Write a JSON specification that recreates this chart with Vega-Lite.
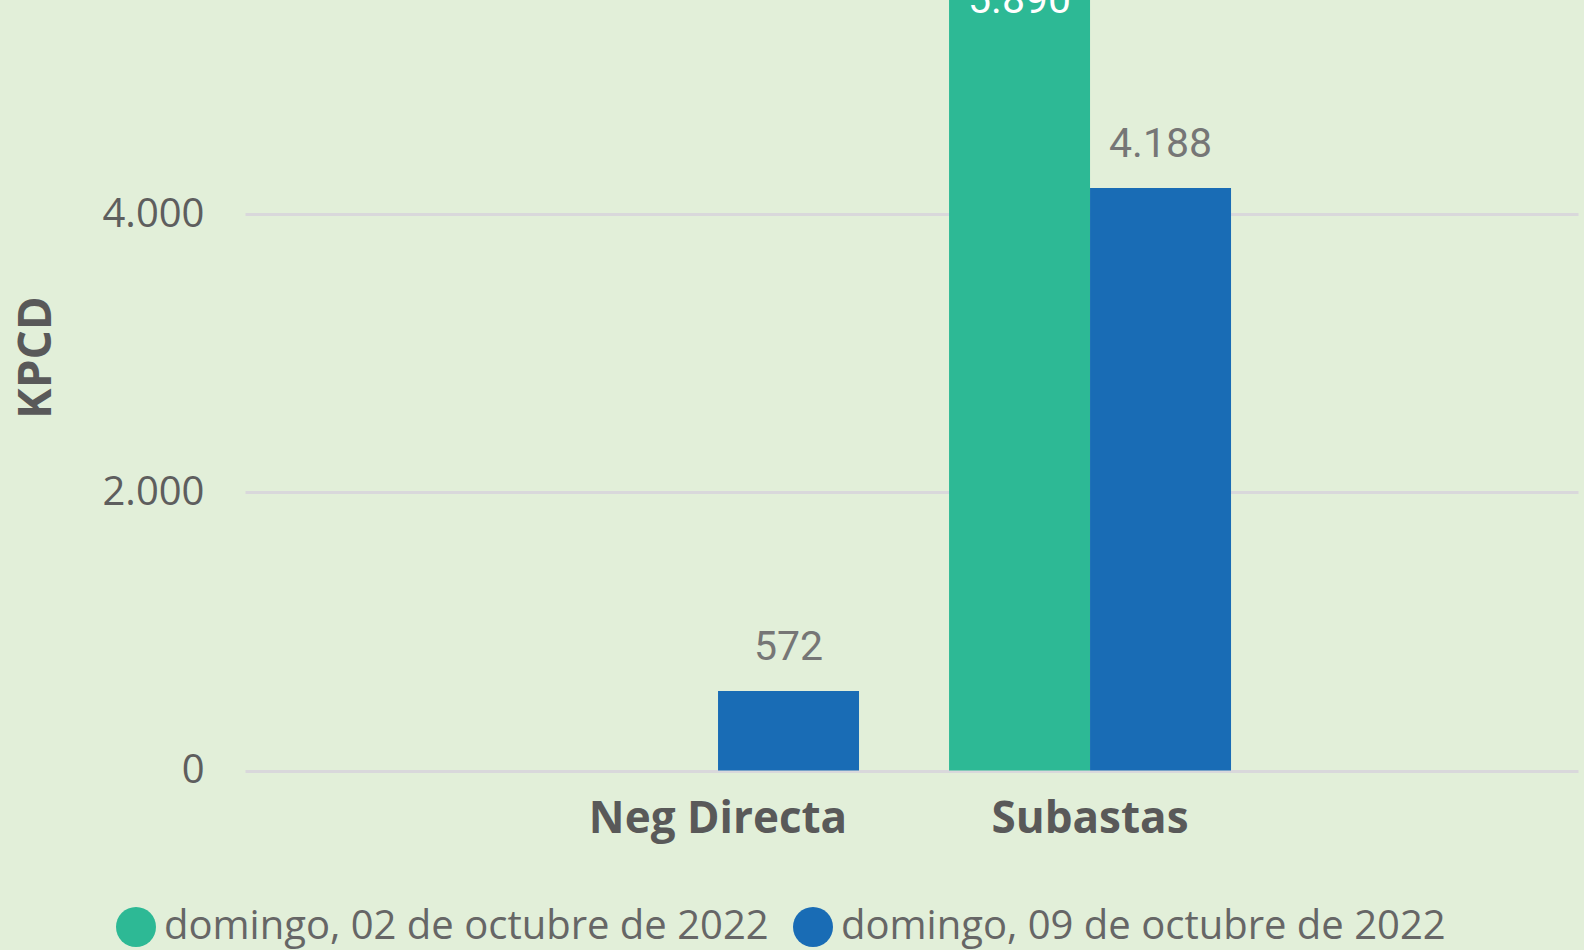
{
  "$schema": "https://vega.github.io/schema/vega-lite/v6.json",
  "width": 1333,
  "height": 770.5,
  "autosize": {"type": "none"},
  "padding": {"left": 245, "top": 0, "right": 6, "bottom": 179.5},
  "background": "#E2EFD9",
  "data": {
    "values": [
      {"categoria": "Neg Directa", "fecha": "domingo, 09 de octubre de 2022", "kpcd": 572},
      {"categoria": "Subastas", "fecha": "domingo, 02 de octubre de 2022", "kpcd": 5890},
      {"categoria": "Subastas", "fecha": "domingo, 09 de octubre de 2022", "kpcd": 4188}
    ]
  },
  "encoding": {
    "x": {
      "field": "categoria",
      "type": "nominal",
      "scale": {"domain": ["Neg Directa", "Subastas"], "paddingInner": 0.242, "paddingOuter": 0.9126, "align": 0.489},
      "axis": {
        "title": null,
        "labelAngle": 0,
        "ticks": false,
        "domain": false,
        "labelFont": "Open Sans",
        "labelFontWeight": "bold",
        "labelFontSize": 44,
        "labelColor": "#595959",
        "labelPadding": 27,
        "labelDx": 10,
        "labelLimit": 1000
      }
    },
    "xOffset": {
      "field": "fecha",
      "type": "nominal",
      "scale": {"domain": ["domingo, 02 de octubre de 2022", "domingo, 09 de octubre de 2022"], "paddingInner": 0, "paddingOuter": 0}
    },
    "y": {
      "field": "kpcd",
      "type": "quantitative",
      "scale": {"domain": [0, 5540], "nice": false, "clamp": true, "zero": true},
      "axis": {
        "values": [0, 2000, 4000],
        "format": ",d",
        "ticks": false,
        "domain": false,
        "grid": true,
        "gridColor": "#D9D8DB",
        "gridWidth": 3,
        "labelFont": "Open Sans",
        "labelFontSize": 40,
        "labelColor": "#5E5E5E",
        "labelPadding": 41,
        "title": "KPCD",
        "titleFont": "Open Sans",
        "titleFontWeight": "bold",
        "titleFontSize": 46,
        "titleColor": "#595959",
        "titleX": -208.5,
        "titleY": 357,
        "titleBaseline": "middle",
        "titleAngle": 270
      }
    }
  },
  "layer": [
    {
      "mark": {"type": "bar"},
      "encoding": {
        "color": {
          "field": "fecha",
          "type": "nominal",
          "scale": {"domain": ["domingo, 02 de octubre de 2022", "domingo, 09 de octubre de 2022"], "range": ["#2DB995", "#196CB5"]},
          "legend": {
            "title": null,
            "orient": "none",
            "legendX": -129,
            "legendY": 907,
            "direction": "horizontal",
            "symbolType": "circle",
            "symbolSize": 1600,
            "symbolStrokeWidth": 0,
            "symbolOpacity": 1,
            "labelFont": "Open Sans",
            "labelFontSize": 40,
            "labelColor": "#666666",
            "labelOffset": 8,
            "columnPadding": 24,
            "labelLimit": 1000,
            "padding": 0
          }
        }
      }
    },
    {
      "transform": [{"filter": "datum.kpcd < 5000"}],
      "mark": {"type": "text", "dy": -31, "baseline": "alphabetic", "align": "center", "font": "Roboto", "fontSize": 41, "color": "#767676"},
      "encoding": {"text": {"field": "kpcd", "type": "quantitative", "format": ",d"}}
    },
    {
      "transform": [{"filter": "datum.kpcd >= 5000"}],
      "mark": {"type": "text", "dy": 13, "baseline": "alphabetic", "align": "center", "font": "Roboto", "fontSize": 41, "color": "#FFFFFF"},
      "encoding": {"text": {"field": "kpcd", "type": "quantitative", "format": ",d"}}
    }
  ],
  "config": {
    "view": {"stroke": null},
    "locale": {"number": {"decimal": ",", "thousands": ".", "grouping": [3], "currency": ["", " €"]}}
  }
}
